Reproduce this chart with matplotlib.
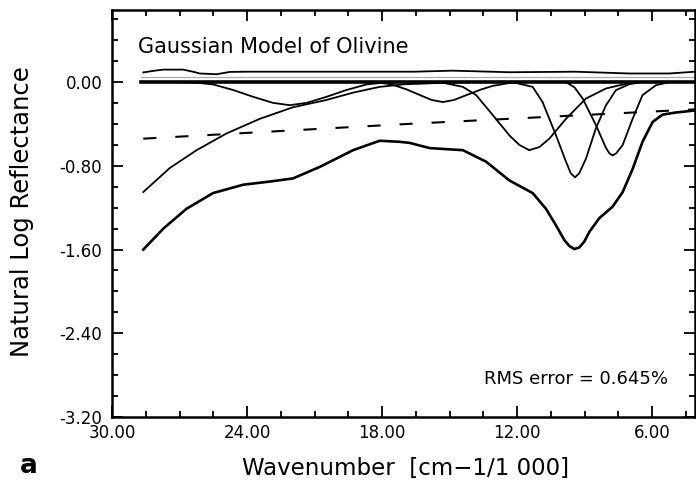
import numpy as np
import matplotlib.pyplot as plt
from matplotlib.ticker import MultipleLocator, FormatStrFormatter

plt.rcParams['font.family'] = ['DejaVu Sans']
plt.rcParams['axes.unicode_minus'] = False

# wavenumber in 1000 cm-1, values in natural log reflectance
# measured olivine spectrum
meas_w = [28.61, 27.72, 26.69, 25.51, 24.17, 22.99, 21.96, 20.77, 19.29, 18.11, 17.22,
          16.78, 15.89, 14.41, 13.38, 12.34, 11.31, 10.72, 10.27, 9.90, 9.68, 9.46, 9.24,
          9.02, 8.79, 8.35, 7.76, 7.31, 6.87, 6.43, 5.98, 5.54, 4.95, 4.09]
meas_v = [-1.60, -1.40, -1.21, -1.06, -0.98, -0.95, -0.92, -0.81, -0.65, -0.56, -0.57,
          -0.58, -0.63, -0.65, -0.76, -0.94, -1.06, -1.21, -1.37, -1.51, -1.566, -1.595, -1.58,
          -1.525, -1.43, -1.30, -1.19, -1.05, -0.83, -0.57, -0.38, -0.31, -0.29, -0.27]

# continuum (dashed)
cont_w = [28.61, 16.93, 4.10]
cont_v = [-0.54, -0.40, -0.26]

# individual gaussian bands
uv_w = [28.61, 27.43, 26.24, 24.91, 23.43, 21.96, 20.47, 19.29, 18.11, 17.0, 15.5, 14.0]
uv_v = [-1.05, -0.82, -0.65, -0.49, -0.35, -0.24, -0.17, -0.10, -0.045, -0.02, -0.008, 0.0]

b1_w = [27.0, 26.1, 25.5, 24.6, 23.73, 22.84, 22.1, 21.36, 20.47, 19.6, 18.7, 18.1, 17.2]
b1_v = [0.0, -0.008, -0.022, -0.076, -0.14, -0.198, -0.22, -0.198, -0.14, -0.076, -0.022, -0.008, 0.0]

b2_w = [18.3, 17.6, 16.9, 16.3, 15.8, 15.3, 14.8, 14.26, 13.6, 13.08, 12.4, 11.8]
b2_v = [0.0, -0.02, -0.07, -0.125, -0.17, -0.19, -0.17, -0.124, -0.07, -0.035, -0.01, 0.0]

b3_w = [15.3, 14.41, 13.82, 13.08, 12.34, 11.9, 11.46, 11.01, 10.57, 9.83, 8.94, 8.05, 7.46, 6.8]
b3_v = [-0.005, -0.045, -0.124, -0.315, -0.51, -0.60, -0.65, -0.62, -0.54, -0.35, -0.156, -0.06, -0.03, -0.005]

b4_w = [12.2, 11.31, 10.87, 10.27, 9.83, 9.62, 9.43, 9.24, 8.94, 8.5, 8.05, 7.61, 7.02, 6.5]
b4_v = [0.0, -0.045, -0.19, -0.51, -0.76, -0.87, -0.91, -0.87, -0.73, -0.44, -0.22, -0.076, -0.02, 0.0]

b5_w = [9.83, 9.45, 9.09, 8.5, 8.05, 7.9, 7.76, 7.6, 7.31, 6.87, 6.43, 5.84, 5.25]
b5_v = [0.0, -0.05, -0.156, -0.41, -0.63, -0.68, -0.70, -0.68, -0.60, -0.35, -0.124, -0.03, 0.0]

# residual (offset above zero)
res_w = [28.61, 28.1, 27.72, 26.84, 26.4, 26.1, 25.35, 24.76, 24.0, 22.25, 16.6, 14.86, 12.34, 9.4, 7.02, 5.25, 4.09]
res_v = [0.093, 0.11, 0.12, 0.12, 0.10, 0.083, 0.076, 0.098, 0.10, 0.10, 0.10, 0.11, 0.095, 0.10, 0.083, 0.083, 0.10]

zero_w = [28.7, 4.1]
zero_v = [0.0, 0.0]
guide_w = [28.7, 4.1]
guide_v = [0.053, 0.053]

fig = plt.figure(figsize=(6.96, 4.82), dpi=100)
ax = fig.add_axes([0.1609, 0.1349, 0.8376, 0.8444])

ax.plot(guide_w, guide_v, color='#aaaaaa', lw=0.9)
ax.plot(zero_w, zero_v, color='black', lw=2.6)
ax.plot(res_w, res_v, color='black', lw=1.3)
for bw, bv in [(uv_w, uv_v), (b1_w, b1_v), (b2_w, b2_v), (b3_w, b3_v), (b4_w, b4_v), (b5_w, b5_v)]:
    ax.plot(bw, bv, color='black', lw=1.3)
ax.plot(cont_w, cont_v, color='black', lw=1.5, linestyle=(0, (6.3, 9.1)))
ax.plot(meas_w, meas_v, color='black', lw=1.9)

ax.set_xlim(30, 4.1)
ax.set_ylim(-3.2, 0.69)

ax.xaxis.set_major_locator(MultipleLocator(6))
ax.xaxis.set_minor_locator(MultipleLocator(1.5))
ax.yaxis.set_major_locator(MultipleLocator(0.8))
ax.yaxis.set_minor_locator(MultipleLocator(0.2))
ax.xaxis.set_major_formatter(FormatStrFormatter('%.2f'))
ax.yaxis.set_major_formatter(FormatStrFormatter('%.2f'))

ax.tick_params(which='both', direction='in', top=True, right=True, width=1.3, labelsize=12)
ax.tick_params(which='major', length=8)
ax.tick_params(which='minor', length=4)
ax.tick_params(axis='y', pad=7)
ax.tick_params(axis='x', pad=5)
for s in ax.spines.values():
    s.set_linewidth(1.8)

ax.set_xlabel('Wavenumber  [cm\u22121/1 000]', fontsize=16.5)
ax.set_ylabel('Natural Log Reflectance', fontsize=17.5)
ax.xaxis.set_label_coords(0.503, -0.098)
ax.yaxis.set_label_coords(-0.134, 0.504)

ax.text(0.0446, 0.894, 'Gaussian Model of Olivine', transform=ax.transAxes,
        fontsize=15, ha='left', va='baseline')
ax.text(0.9537, 0.081, 'RMS error = 0.645%', transform=ax.transAxes,
        fontsize=13, ha='right', va='baseline')
fig.text(0.029, 0.019, 'a', fontsize=19, fontweight='bold', ha='left', va='baseline')

fig.savefig('out.png', dpi=100)
